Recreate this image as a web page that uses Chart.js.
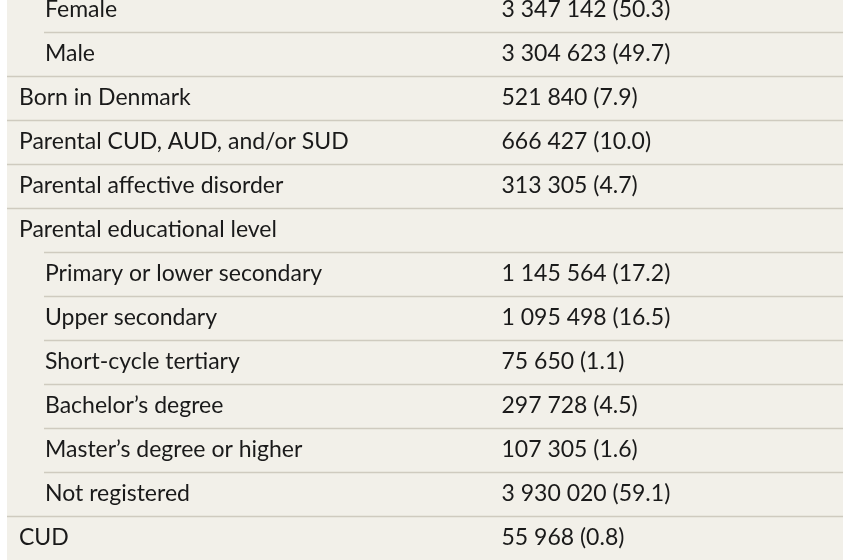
<!DOCTYPE html><html><head><meta charset="utf-8">
<script src="https://cdn.jsdelivr.net/npm/chart.js@4"></script>
<style>html,body{margin:0;padding:0;background:#fff}#w{width:850px;height:560px}</style></head><body>
<div id="w"><canvas id="c"></canvas></div>
<script>
const rowLabels = ["Female","Male","Born in Denmark","Parental CUD, AUD, and/or SUD","Parental affective disorder","Parental educational level","Primary or lower secondary","Upper secondary","Short-cycle tertiary","Bachelor’s degree","Master’s degree or higher","Not registered","CUD"];
const indented = [1,1,0,0,0,0,1,1,1,1,1,1,0];
const counts = ["3 347 142","3 304 623","521 840","666 427","313 305","","1 145 564","1 095 498","75 650","297 728","107 305","3 930 020","55 968"];
const percents = ["50.3","49.7","7.9","10.0","4.7","","17.2","16.5","1.1","4.5","1.6","59.1","0.8"];

const FONT = '23px Lato, "Noto Sans", sans-serif';
const tablePlugin = {
  id:'table',
  beforeDraw(ch){
    const c=ch.ctx; c.save(); c.fillStyle='#f2f0e9'; c.fillRect(7,0,836,ch.height); c.restore();
  },
  afterDraw(ch){
    const c=ch.ctx, y=ch.scales.y, x=ch.scales.x;
    c.save();
    c.strokeStyle='#cfcbbf'; c.lineWidth=1.5;
    for(let i=0;i<rowLabels.length-1;i++){
      const py=Math.round(y.getPixelForValue(i+0.5))+0.5;
      const x0 = indented[i+1]? 44 : 7;
      c.beginPath(); c.moveTo(x0,py); c.lineTo(843,py); c.stroke();
    }
    c.fillStyle='#1a1a1a'; c.font=FONT; c.textBaseline='middle'; c.textAlign='left';
    rowLabels.forEach((l,i)=>{
      const py=y.getPixelForValue(i);
      c.fillText(l, indented[i]?45:19, py);
      if(counts[i]) c.fillText(counts[i]+' ('+percents[i]+')', x.getPixelForValue(0.59), py);
    });
    c.restore();
  }
};
new Chart(document.getElementById('c'),{
  type:'scatter',
  data:{datasets:[{data:rowLabels.map((l,i)=>({x:0,y:i})),pointRadius:0}]},
  options:{responsive:true,maintainAspectRatio:false,animation:false,
    layout:{padding:0},
    plugins:{legend:{display:false},tooltip:{enabled:false}},
    scales:{
      x:{type:'linear',min:0,max:1,display:false},
      y:{type:'linear',min:-0.227,max:12.5,reverse:true,display:false}
    }},
  plugins:[tablePlugin]
});
</script></body></html>
